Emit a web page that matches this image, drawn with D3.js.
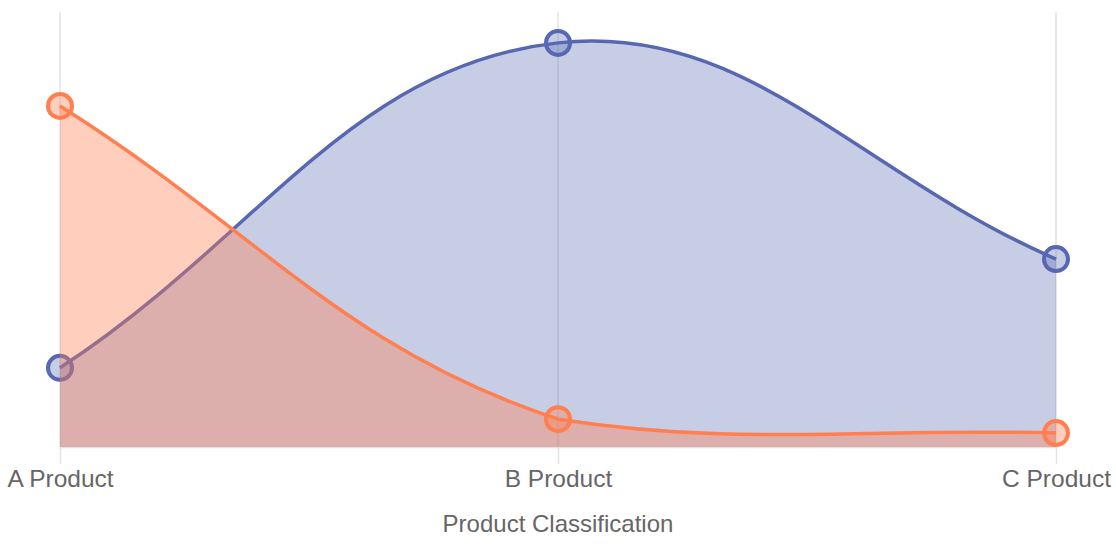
<!DOCTYPE html>
<html>
<head>
<meta charset="utf-8">
<script src="https://cdn.jsdelivr.net/npm/d3@7"></script>
<style>
  html, body { margin: 0; padding: 0; background: #fff; }
  svg text { font-family: "Liberation Sans", Arial, Helvetica, sans-serif; fill: #666; }
</style>
</head>
<body>
<svg id="chart" width="1116" height="558"></svg>
<script>
var categories = ['A Product', 'B Product', 'C Product'];
var blueValues = [18.2, 92.9, 43.2];
var orangeValues = [78.4, 6.4, 3.2];
var axisTitle = 'Product Classification';

var margin = { top: 12, right: 60, bottom: 111, left: 60 };
var fullWidth = 1116;
var fullHeight = 558;
var width = fullWidth - margin.left - margin.right;
var height = fullHeight - margin.top - margin.bottom;

// spline like chart.js (tension + control points capped to the chart area)
function splineCurve(tension, area) {
    return function (context) { return new Spline(context, tension, area); };
}
function Spline(context, t, area) { this._context = context; this._t = t; this._area = area; }
Spline.prototype = {
    areaStart: function () { this._line = 0; },
    areaEnd: function () { this._line = NaN; },
    lineStart: function () { this._pts = []; },
    point: function (x, y) { this._pts.push([+x, +y]); },
    lineEnd: function () {
        var p = this._pts, n = p.length, ctx = this._context, t = this._t, a = this._area;
        var cap = function (v, lo, hi) { return Math.max(Math.min(v, hi), lo); };
        if (n) {
            if (this._line) ctx.lineTo(p[0][0], p[0][1]); else ctx.moveTo(p[0][0], p[0][1]);
            var cps = p.map(function (cur, i) {
                var prev = p[Math.max(i - 1, 0)], next = p[Math.min(i + 1, n - 1)];
                var d01 = Math.hypot(cur[0] - prev[0], cur[1] - prev[1]);
                var d12 = Math.hypot(next[0] - cur[0], next[1] - cur[1]);
                var s01 = d01 / (d01 + d12), s12 = d12 / (d01 + d12);
                if (isNaN(s01)) s01 = 0;
                if (isNaN(s12)) s12 = 0;
                var fa = t * s01, fb = t * s12;
                return {
                    px: cap(cur[0] - fa * (next[0] - prev[0]), a[0], a[1]),
                    py: cap(cur[1] - fa * (next[1] - prev[1]), a[2], a[3]),
                    nx: cap(cur[0] + fb * (next[0] - prev[0]), a[0], a[1]),
                    ny: cap(cur[1] + fb * (next[1] - prev[1]), a[2], a[3])
                };
            });
            for (var i = 1; i < n; i++) {
                ctx.bezierCurveTo(cps[i - 1].nx, cps[i - 1].ny, cps[i].px, cps[i].py, p[i][0], p[i][1]);
            }
        }
        if (this._line || (this._line !== 0 && n === 1)) ctx.closePath();
        this._line = 1 - this._line;
    }
};

var svg = d3.select('#chart')
    .append('g')
    .attr('transform', 'translate(' + margin.left + ',' + margin.top + ')');

var x = d3.scalePoint()
    .domain(categories)
    .range([0, width]);

var y = d3.scaleLinear()
    .domain([0, 100])
    .range([height, 0]);

var curve = splineCurve(0.4, [0, width, 0, height]);

// grid lines
svg.selectAll('.grid')
    .data(categories)
    .enter().append('line')
    .attr('class', 'grid')
    .attr('x1', function (d) { return x(d); })
    .attr('x2', function (d) { return x(d); })
    .attr('y1', 0)
    .attr('y2', height)
    .attr('stroke', '#e3e3e3')
    .attr('stroke-width', 1.5);

var xAxis = d3.axisBottom(x).tickSizeInner(17).tickSizeOuter(0);
var gx = svg.append('g')
    .attr('transform', 'translate(0,' + height + ')')
    .call(xAxis);
gx.select('.domain').attr('stroke', '#e3e3e3').attr('stroke-width', 1.5);
gx.selectAll('.tick line').attr('stroke', '#e3e3e3').attr('stroke-width', 1.5);
gx.selectAll('.tick text')
    .attr('y', 40)
    .attr('dy', null)
    .style('font-size', '24.5px')
    .style('font-family', '"Liberation Sans", Arial, sans-serif')
    .attr('fill', '#666');

svg.append('text')
    .attr('x', width / 2)
    .attr('y', height + 85)
    .attr('text-anchor', 'middle')
    .style('font-size', '24px')
    .text(axisTitle);

var series = [
    { values: blueValues, stroke: 'rgb(88,103,178)', fill: 'rgba(88,103,178,0.33)' },
    { values: orangeValues, stroke: 'rgb(255,127,80)', fill: 'rgba(255,127,80,0.38)' }
];

series.forEach(function (s) {
    var pts = categories.map(function (c, i) { return { c: c, v: s.values[i] }; });

    var area = d3.area()
        .x(function (d) { return x(d.c); })
        .y0(height)
        .y1(function (d) { return y(d.v); })
        .curve(curve);

    var line = d3.line()
        .x(function (d) { return x(d.c); })
        .y(function (d) { return y(d.v); })
        .curve(curve);

    svg.append('path')
        .datum(pts)
        .attr('d', area)
        .attr('fill', s.fill);

    svg.append('path')
        .datum(pts)
        .attr('d', line)
        .attr('fill', 'none')
        .attr('stroke', s.stroke)
        .attr('stroke-width', 3.5);

    svg.selectAll(null)
        .data(pts)
        .enter().append('circle')
        .attr('cx', function (d) { return x(d.c); })
        .attr('cy', function (d) { return y(d.v); })
        .attr('r', 12)
        .attr('fill', s.fill)
        .attr('stroke', s.stroke)
        .attr('stroke-width', 4);
});
</script>
</body>
</html>
